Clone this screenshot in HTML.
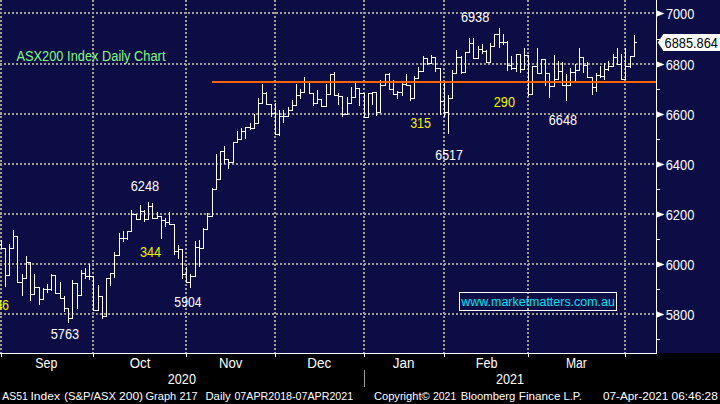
<!DOCTYPE html>
<html><head><meta charset="utf-8"><style>
html,body{margin:0;padding:0;background:#000;width:720px;height:404px;overflow:hidden}
body{position:relative;font-family:"Liberation Sans",sans-serif}
svg{position:absolute;left:0;top:0}
.t{position:absolute;white-space:pre;line-height:1;transform-origin:0 0}
</style></head><body>
<svg width="720" height="404" viewBox="0 0 720 404" shape-rendering="crispEdges">
<defs><pattern id="hd" width="4" height="4" patternUnits="userSpaceOnUse"><rect x="0" y="0" width="2" height="4" fill="#a0a094"/></pattern>
<pattern id="vd" width="4" height="4" patternUnits="userSpaceOnUse"><rect x="0" y="0" width="4" height="2" fill="#a0a094"/></pattern></defs>
<rect x="0" y="0" width="720" height="353" fill="#0d0d46"/>
<rect x="0" y="12" width="656" height="2" fill="url(#hd)"/>
<rect x="0" y="63" width="656" height="2" fill="url(#hd)"/>
<rect x="0" y="113" width="656" height="2" fill="url(#hd)"/>
<rect x="0" y="163" width="656" height="2" fill="url(#hd)"/>
<rect x="0" y="213" width="656" height="2" fill="url(#hd)"/>
<rect x="0" y="263" width="656" height="2" fill="url(#hd)"/>
<rect x="0" y="313" width="656" height="2" fill="url(#hd)"/>
<rect x="0" y="0" width="2" height="353" fill="url(#vd)"/>
<rect x="92" y="0" width="2" height="353" fill="url(#vd)"/>
<rect x="185" y="0" width="2" height="353" fill="url(#vd)"/>
<rect x="274" y="0" width="2" height="353" fill="url(#vd)"/>
<rect x="363" y="0" width="2" height="353" fill="url(#vd)"/>
<rect x="443" y="0" width="2" height="353" fill="url(#vd)"/>
<rect x="527" y="0" width="2" height="353" fill="url(#vd)"/>
<rect x="624" y="0" width="2" height="353" fill="url(#vd)"/>
<path fill="#fff" d="M1 240h1v9h-1zM-1 244h2v1h-2zM2 248h2v1h-2zM5 248h1v39h-1zM3 248h2v1h-2zM6 275h2v1h-2zM9 244h1v32h-1zM7 275h2v1h-2zM10 248h2v1h-2zM13 230h1v19h-1zM11 248h2v1h-2zM14 236h2v1h-2zM17 236h1v47h-1zM15 236h2v1h-2zM18 282h2v1h-2zM22 274h1v22h-1zM20 282h2v1h-2zM23 278h2v1h-2zM26 256h1v23h-1zM24 278h2v1h-2zM27 262h2v1h-2zM30 262h1v39h-1zM28 262h2v1h-2zM31 294h2v1h-2zM34 274h1v21h-1zM32 294h2v1h-2zM35 287h2v1h-2zM39 287h1v18h-1zM37 287h2v1h-2zM40 299h2v1h-2zM43 288h1v12h-1zM41 299h2v1h-2zM44 289h2v1h-2zM47 284h1v9h-1zM45 289h2v1h-2zM48 289h2v1h-2zM51 274h1v17h-1zM49 289h2v1h-2zM52 275h2v1h-2zM55 275h1v19h-1zM53 275h2v1h-2zM56 293h2v1h-2zM60 282h1v17h-1zM58 293h2v1h-2zM61 298h2v1h-2zM64 296h1v16h-1zM62 298h2v1h-2zM65 308h2v1h-2zM68 308h1v15h-1zM66 308h2v1h-2zM69 318h2v1h-2zM72 280h1v39h-1zM70 318h2v1h-2zM73 283h2v1h-2zM77 283h1v26h-1zM75 283h2v1h-2zM78 295h2v1h-2zM81 270h1v26h-1zM79 295h2v1h-2zM82 273h2v1h-2zM85 268h1v11h-1zM83 273h2v1h-2zM86 276h2v1h-2zM89 264h1v16h-1zM87 276h2v1h-2zM90 276h2v1h-2zM93 276h1v35h-1zM91 276h2v1h-2zM94 310h2v1h-2zM98 285h1v26h-1zM96 310h2v1h-2zM99 296h2v1h-2zM102 296h1v23h-1zM100 296h2v1h-2zM103 316h2v1h-2zM106 278h1v39h-1zM104 316h2v1h-2zM107 278h2v1h-2zM110 273h1v13h-1zM108 278h2v1h-2zM111 273h2v1h-2zM114 252h1v26h-1zM112 273h2v1h-2zM115 255h2v1h-2zM119 233h1v23h-1zM117 255h2v1h-2zM120 238h2v1h-2zM123 231h1v11h-1zM121 238h2v1h-2zM124 238h2v1h-2zM127 231h1v9h-1zM125 238h2v1h-2zM128 231h2v1h-2zM131 210h1v22h-1zM129 231h2v1h-2zM132 214h2v1h-2zM136 214h1v6h-1zM134 214h2v1h-2zM137 219h2v1h-2zM140 205h1v15h-1zM138 219h2v1h-2zM141 211h2v1h-2zM144 210h1v12h-1zM142 211h2v1h-2zM145 219h2v1h-2zM148 202h1v18h-1zM146 219h2v1h-2zM149 206h2v1h-2zM152 203h1v16h-1zM150 206h2v1h-2zM153 218h2v1h-2zM157 212h1v7h-1zM155 218h2v1h-2zM158 216h2v1h-2zM161 216h1v23h-1zM159 216h2v1h-2zM162 220h2v1h-2zM165 218h1v9h-1zM163 220h2v1h-2zM166 222h2v1h-2zM169 212h1v13h-1zM167 222h2v1h-2zM170 224h2v1h-2zM174 224h1v31h-1zM172 224h2v1h-2zM175 251h2v1h-2zM178 245h1v14h-1zM176 251h2v1h-2zM179 249h2v1h-2zM182 249h1v30h-1zM180 249h2v1h-2zM183 274h2v1h-2zM186 267h1v16h-1zM184 274h2v1h-2zM187 282h2v1h-2zM190 274h1v14h-1zM188 282h2v1h-2zM191 276h2v1h-2zM195 241h1v36h-1zM193 276h2v1h-2zM196 247h2v1h-2zM199 240h1v27h-1zM197 247h2v1h-2zM200 248h2v1h-2zM203 228h1v21h-1zM201 248h2v1h-2zM204 229h2v1h-2zM207 213h1v17h-1zM205 229h2v1h-2zM208 216h2v1h-2zM212 188h1v29h-1zM210 216h2v1h-2zM213 189h2v1h-2zM216 154h1v36h-1zM214 189h2v1h-2zM217 179h2v1h-2zM220 151h1v29h-1zM218 179h2v1h-2zM221 151h2v1h-2zM224 146h1v18h-1zM222 151h2v1h-2zM225 159h2v1h-2zM228 159h1v10h-1zM226 159h2v1h-2zM229 162h2v1h-2zM233 142h1v21h-1zM231 162h2v1h-2zM234 142h2v1h-2zM237 131h1v12h-1zM235 142h2v1h-2zM238 139h2v1h-2zM241 128h1v12h-1zM239 139h2v1h-2zM242 131h2v1h-2zM245 127h1v12h-1zM243 131h2v1h-2zM246 127h2v1h-2zM250 123h1v7h-1zM248 127h2v1h-2zM251 128h2v1h-2zM254 114h1v15h-1zM252 128h2v1h-2zM255 123h2v1h-2zM258 98h1v26h-1zM256 123h2v1h-2zM259 103h2v1h-2zM262 84h1v20h-1zM260 103h2v1h-2zM263 93h2v1h-2zM266 92h1v13h-1zM264 93h2v1h-2zM267 104h2v1h-2zM271 104h1v13h-1zM269 104h2v1h-2zM272 113h2v1h-2zM275 103h1v32h-1zM273 113h2v1h-2zM276 134h2v1h-2zM279 110h1v26h-1zM277 134h2v1h-2zM280 116h2v1h-2zM283 110h1v13h-1zM281 116h2v1h-2zM284 116h2v1h-2zM288 107h1v10h-1zM286 116h2v1h-2zM289 110h2v1h-2zM292 100h1v11h-1zM290 110h2v1h-2zM293 105h2v1h-2zM296 84h1v22h-1zM294 105h2v1h-2zM297 95h2v1h-2zM300 89h1v10h-1zM298 95h2v1h-2zM301 92h2v1h-2zM304 77h1v16h-1zM302 92h2v1h-2zM305 82h2v1h-2zM309 82h1v12h-1zM307 82h2v1h-2zM310 93h2v1h-2zM313 93h1v13h-1zM311 93h2v1h-2zM314 103h2v1h-2zM317 90h1v14h-1zM315 103h2v1h-2zM318 99h2v1h-2zM321 99h1v8h-1zM319 99h2v1h-2zM322 106h2v1h-2zM326 84h1v23h-1zM324 106h2v1h-2zM327 94h2v1h-2zM330 74h1v21h-1zM328 94h2v1h-2zM331 74h2v1h-2zM334 72h1v24h-1zM332 74h2v1h-2zM335 95h2v1h-2zM338 93h1v12h-1zM336 95h2v1h-2zM339 96h2v1h-2zM342 96h1v21h-1zM340 96h2v1h-2zM343 114h2v1h-2zM347 97h1v18h-1zM345 114h2v1h-2zM348 103h2v1h-2zM351 87h1v17h-1zM349 103h2v1h-2zM352 97h2v1h-2zM355 83h1v15h-1zM353 97h2v1h-2zM356 88h2v1h-2zM359 88h1v18h-1zM357 88h2v1h-2zM360 93h2v1h-2zM364 93h1v25h-1zM362 93h2v1h-2zM365 117h2v1h-2zM368 93h1v25h-1zM366 117h2v1h-2zM369 93h2v1h-2zM372 92h1v13h-1zM370 93h2v1h-2zM373 92h2v1h-2zM376 92h1v24h-1zM374 92h2v1h-2zM377 112h2v1h-2zM380 80h1v33h-1zM378 112h2v1h-2zM381 85h2v1h-2zM385 74h1v12h-1zM383 85h2v1h-2zM386 74h2v1h-2zM389 73h1v17h-1zM387 74h2v1h-2zM390 89h2v1h-2zM393 80h1v15h-1zM391 89h2v1h-2zM394 94h2v1h-2zM397 91h1v8h-1zM395 94h2v1h-2zM398 92h2v1h-2zM402 82h1v14h-1zM400 92h2v1h-2zM403 84h2v1h-2zM406 74h1v12h-1zM404 84h2v1h-2zM407 85h2v1h-2zM410 85h1v16h-1zM408 85h2v1h-2zM411 98h2v1h-2zM414 76h1v23h-1zM412 98h2v1h-2zM415 78h2v1h-2zM418 67h1v12h-1zM416 78h2v1h-2zM419 71h2v1h-2zM423 56h1v16h-1zM421 71h2v1h-2zM424 58h2v1h-2zM427 58h1v7h-1zM425 58h2v1h-2zM428 63h2v1h-2zM431 55h1v9h-1zM429 63h2v1h-2zM432 57h2v1h-2zM435 57h1v15h-1zM433 57h2v1h-2zM436 68h2v1h-2zM440 68h1v47h-1zM438 68h2v1h-2zM441 101h2v1h-2zM444 83h1v34h-1zM442 101h2v1h-2zM445 112h2v1h-2zM448 95h1v39h-1zM446 112h2v1h-2zM449 98h2v1h-2zM452 70h1v29h-1zM450 98h2v1h-2zM453 73h2v1h-2zM456 50h1v24h-1zM454 73h2v1h-2zM457 57h2v1h-2zM461 56h1v18h-1zM459 57h2v1h-2zM462 72h2v1h-2zM465 52h1v21h-1zM463 72h2v1h-2zM466 52h2v1h-2zM469 38h1v15h-1zM467 52h2v1h-2zM470 43h2v1h-2zM473 38h1v21h-1zM471 43h2v1h-2zM474 58h2v1h-2zM478 46h1v13h-1zM476 58h2v1h-2zM479 49h2v1h-2zM482 44h1v10h-1zM480 49h2v1h-2zM483 51h2v1h-2zM486 50h1v13h-1zM484 51h2v1h-2zM487 62h2v1h-2zM490 43h1v20h-1zM488 62h2v1h-2zM491 46h2v1h-2zM494 34h1v13h-1zM492 46h2v1h-2zM495 34h2v1h-2zM499 28h1v20h-1zM497 34h2v1h-2zM500 42h2v1h-2zM503 34h1v11h-1zM501 42h2v1h-2zM504 42h2v1h-2zM507 41h1v30h-1zM505 42h2v1h-2zM508 65h2v1h-2zM511 56h1v14h-1zM509 65h2v1h-2zM512 68h2v1h-2zM516 54h1v18h-1zM514 68h2v1h-2zM517 54h2v1h-2zM520 54h1v19h-1zM518 54h2v1h-2zM521 69h2v1h-2zM524 48h1v22h-1zM522 69h2v1h-2zM525 55h2v1h-2zM528 55h1v41h-1zM526 55h2v1h-2zM529 94h2v1h-2zM532 66h1v29h-1zM530 94h2v1h-2zM533 66h2v1h-2zM537 48h1v26h-1zM535 66h2v1h-2zM538 73h2v1h-2zM541 59h1v15h-1zM539 73h2v1h-2zM542 59h2v1h-2zM545 59h1v27h-1zM543 59h2v1h-2zM546 73h2v1h-2zM549 73h1v25h-1zM547 73h2v1h-2zM550 86h2v1h-2zM554 55h1v32h-1zM552 86h2v1h-2zM555 79h2v1h-2zM558 61h1v19h-1zM556 79h2v1h-2zM559 71h2v1h-2zM562 62h1v24h-1zM560 71h2v1h-2zM563 85h2v1h-2zM566 74h1v27h-1zM564 85h2v1h-2zM567 85h2v1h-2zM570 68h1v18h-1zM568 85h2v1h-2zM571 72h2v1h-2zM575 64h1v17h-1zM573 72h2v1h-2zM576 70h2v1h-2zM579 48h1v23h-1zM577 70h2v1h-2zM580 57h2v1h-2zM583 57h1v16h-1zM581 57h2v1h-2zM584 65h2v1h-2zM587 62h1v16h-1zM585 65h2v1h-2zM588 77h2v1h-2zM592 77h1v18h-1zM590 77h2v1h-2zM593 87h2v1h-2zM596 73h1v19h-1zM594 87h2v1h-2zM597 75h2v1h-2zM600 66h1v12h-1zM598 75h2v1h-2zM601 76h2v1h-2zM604 63h1v17h-1zM602 76h2v1h-2zM605 69h2v1h-2zM608 61h1v10h-1zM606 69h2v1h-2zM609 66h2v1h-2zM613 54h1v13h-1zM611 66h2v1h-2zM614 57h2v1h-2zM617 48h1v17h-1zM615 57h2v1h-2zM618 64h2v1h-2zM621 54h1v26h-1zM619 64h2v1h-2zM622 79h2v1h-2zM625 48h1v32h-1zM623 79h2v1h-2zM626 66h2v1h-2zM630 56h1v12h-1zM628 66h2v1h-2zM631 56h2v1h-2zM634 35h1v22h-1zM632 56h2v1h-2zM635 42h2v1h-2z"/>
<rect x="212" y="81" width="444" height="2" fill="#ff6400"/>
<rect x="656" y="0" width="1" height="354" fill="#fff"/>
<rect x="0" y="353" width="657" height="1" fill="#fff"/>
<rect x="1" y="354" width="1" height="3" fill="#fff"/>
<rect x="93" y="354" width="1" height="3" fill="#fff"/>
<rect x="186" y="354" width="1" height="3" fill="#fff"/>
<rect x="275" y="354" width="1" height="3" fill="#fff"/>
<rect x="364" y="354" width="1" height="3" fill="#fff"/>
<rect x="444" y="354" width="1" height="3" fill="#fff"/>
<rect x="528" y="354" width="1" height="3" fill="#fff"/>
<rect x="625" y="354" width="1" height="3" fill="#fff"/>
<rect x="364" y="370" width="1" height="17" fill="#a0a0a0"/>
<rect x="657" y="39" width="3" height="1" fill="#fff"/>
<rect x="657" y="89" width="3" height="1" fill="#fff"/>
<rect x="657" y="139" width="3" height="1" fill="#fff"/>
<rect x="657" y="189" width="3" height="1" fill="#fff"/>
<rect x="657" y="239" width="3" height="1" fill="#fff"/>
<rect x="657" y="289" width="3" height="1" fill="#fff"/>
<rect x="657" y="339" width="3" height="1" fill="#fff"/>
<path fill="#fff" shape-rendering="geometricPrecision" d="M657 10.4L664.5 13.4L657 16.4ZM657 61.4L664.5 64.4L657 67.4ZM657 111.4L664.5 114.4L657 117.4ZM657 161.4L664.5 164.4L657 167.4ZM657 211.4L664.5 214.4L657 217.4ZM657 261.4L664.5 264.4L657 267.4ZM657 311.4L664.5 314.4L657 317.4Z"/>
<path fill="#fff" shape-rendering="geometricPrecision" d="M657.8 42.4L663.4 34H720V51H663.4Z"/>
<rect x="459.5" y="292.5" width="157" height="18" fill="none" stroke="#fff" stroke-width="1"/>
</svg>
<div class="t" style="left:665px;top:7px;font-size:14px;color:#ffffff;transform:translateX(0.902px) scaleX(0.9124)">7000</div>
<div class="t" style="left:665px;top:58px;font-size:14px;color:#ffffff;transform:translateX(0.676px) scaleX(0.9197)">6800</div>
<div class="t" style="left:665px;top:108px;font-size:14px;color:#ffffff;transform:translateX(0.676px) scaleX(0.9197)">6600</div>
<div class="t" style="left:665px;top:158px;font-size:14px;color:#ffffff;transform:translateX(0.676px) scaleX(0.9197)">6400</div>
<div class="t" style="left:665px;top:208px;font-size:14px;color:#ffffff;transform:translateX(0.676px) scaleX(0.9197)">6200</div>
<div class="t" style="left:665px;top:258px;font-size:14px;color:#ffffff;transform:translateX(0.676px) scaleX(0.9197)">6000</div>
<div class="t" style="left:665px;top:308px;font-size:14px;color:#ffffff;transform:translateX(0.663px) scaleX(0.9233)">5800</div>
<div class="t" style="left:664px;top:36px;font-size:14px;color:#000000;transform:translateX(0.599px) scaleX(0.9117)">6885.864</div>
<div class="t" style="left:460px;top:10px;font-size:14px;color:#ffffff;transform:translateX(0.877px) scaleX(0.9123)">6938</div>
<div class="t" style="left:130px;top:179px;font-size:14px;color:#ffffff;transform:translateX(0.687px) scaleX(0.9124)">6248</div>
<div class="t" style="left:139px;top:245px;font-size:14px;color:#f0f000;transform:translateX(0.895px) scaleX(0.9035)">344</div>
<div class="t" style="left:174px;top:295px;font-size:14px;color:#ffffff;transform:translateX(0.351px) scaleX(0.8722)">5904</div>
<div class="t" style="left:50px;top:327px;font-size:14px;color:#ffffff;transform:translateX(0.717px) scaleX(0.9133)">5763</div>
<div class="t" style="left:-5px;top:298px;font-size:14px;color:#f0f000;transform:translateX(0.492px) scaleX(0.9200)">4</div>
<div class="t" style="left:1px;top:298px;font-size:14px;color:#f0f000;transform:translateX(0.937px) scaleX(0.8974)">6</div>
<div class="t" style="left:410px;top:116px;font-size:14px;color:#f0f000;transform:translateX(0.125px) scaleX(0.8893)">315</div>
<div class="t" style="left:435px;top:148px;font-size:14px;color:#ffffff;transform:translateX(0.220px) scaleX(0.8887)">6517</div>
<div class="t" style="left:493px;top:95px;font-size:14px;color:#f0f000;transform:translateX(0.792px) scaleX(0.9090)">290</div>
<div class="t" style="left:548px;top:113px;font-size:14px;color:#ffffff;transform:translateX(0.816px) scaleX(0.9060)">6648</div>
<div class="t" style="left:16px;top:49px;font-size:14px;color:#84fa84;transform:translateX(0.432px) scaleX(0.9163)">ASX200 Index Daily Chart</div>
<div class="t" style="left:461px;top:296px;font-size:12.5px;color:#00e0f0;transform:translateX(0.260px) scaleX(0.9965)">www.marketmatters.com.au</div>
<div class="t" style="left:35px;top:356px;font-size:14px;color:#ffffff;transform:translateX(0.347px) scaleX(0.8808)">Sep</div>
<div class="t" style="left:129px;top:356px;font-size:14px;color:#ffffff;transform:translateX(0.674px) scaleX(0.9499)">Oct</div>
<div class="t" style="left:218px;top:356px;font-size:14px;color:#ffffff;transform:translateX(0.972px) scaleX(0.9392)">Nov</div>
<div class="t" style="left:307px;top:356px;font-size:14px;color:#ffffff;transform:translateX(0.299px) scaleX(0.9572)">Dec</div>
<div class="t" style="left:392px;top:356px;font-size:14px;color:#ffffff;transform:translateX(0.731px) scaleX(0.9604)">Jan</div>
<div class="t" style="left:475px;top:356px;font-size:14px;color:#ffffff;transform:translateX(0.717px) scaleX(0.8989)">Feb</div>
<div class="t" style="left:565px;top:356px;font-size:14px;color:#ffffff;transform:translateX(0.937px) scaleX(0.8665)">Mar</div>
<div class="t" style="left:167px;top:372px;font-size:14px;color:#ffffff;transform:translateX(0.782px) scaleX(0.9034)">2020</div>
<div class="t" style="left:495px;top:372px;font-size:14px;color:#ffffff;transform:translateX(0.954px) scaleX(0.9053)">2021</div>
<div class="t" style="left:2px;top:391px;font-size:11px;color:#ffffff;transform:translateX(0.204px) scaleX(0.9515)">AS51</div>
<div class="t" style="left:30px;top:391px;font-size:11px;color:#ffffff;transform:translateX(0.426px) scaleX(1.0955)">Index</div>
<div class="t" style="left:64px;top:391px;font-size:11px;color:#ffffff;transform:translateX(0.223px) scaleX(1.0207)">(S&amp;P/ASX</div>
<div class="t" style="left:118px;top:391px;font-size:11px;color:#ffffff;transform:translateX(0.981px) scaleX(1.0970)">200)</div>
<div class="t" style="left:145px;top:391px;font-size:11px;color:#ffffff;transform:translateX(0.476px) scaleX(1.0063)">Graph</div>
<div class="t" style="left:179px;top:391px;font-size:11px;color:#ffffff;transform:translateX(0.437px) scaleX(0.9869)">217</div>
<div class="t" style="left:205px;top:391px;font-size:11px;color:#ffffff;transform:translateX(0.447px) scaleX(1.0280)">Daily</div>
<div class="t" style="left:234px;top:391px;font-size:11px;color:#ffffff;transform:translateX(0.418px) scaleX(0.9709)">07APR2018-07APR2021</div>
<div class="t" style="left:373px;top:391px;font-size:11px;color:#ffffff;transform:translateX(0.969px) scaleX(1.0098)">Copyright©</div>
<div class="t" style="left:432px;top:391px;font-size:11px;color:#ffffff;transform:translateX(0.931px) scaleX(0.9519)">2021</div>
<div class="t" style="left:460px;top:391px;font-size:11px;color:#ffffff;transform:translateX(0.686px) scaleX(1.0251)">Bloomberg</div>
<div class="t" style="left:518px;top:391px;font-size:11px;color:#ffffff;transform:translateX(0.831px) scaleX(1.0616)">Finance</div>
<div class="t" style="left:563px;top:391px;font-size:11px;color:#ffffff;transform:translateX(0.438px) scaleX(1.0153)">L.P.</div>
<div class="t" style="left:602px;top:391px;font-size:11px;color:#ffffff;transform:translateX(0.946px) scaleX(1.0688)">07-Apr-2021</div>
<div class="t" style="left:671px;top:391px;font-size:11px;color:#ffffff;transform:translateX(0.585px) scaleX(1.0787)">06:46:28</div>
</body></html>
